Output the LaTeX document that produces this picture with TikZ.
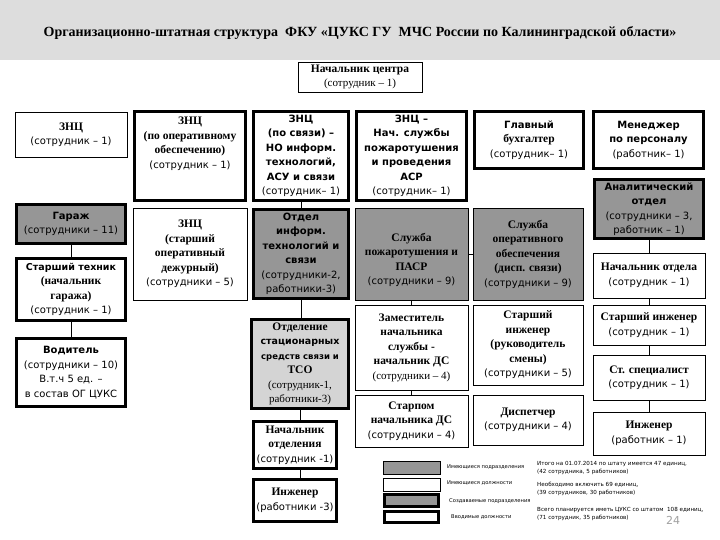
\documentclass[tikz,border=0pt]{standalone}
\usepackage{fontspec}
\setmainfont{Liberation Serif}
\setsansfont{DejaVu Sans}
\definecolor{bandgray}{RGB}{221,221,221}
\definecolor{unitgray}{RGB}{150,150,150}
\definecolor{newgray}{RGB}{212,212,212}
\definecolor{numgray}{RGB}{160,160,160}
% заголовки: с засечками и без
\newcommand{\hr}[1]{{\rmfamily\bfseries\fontsize{11.5}{14.5}\selectfont #1}}
\newcommand{\hs}[1]{{\sffamily\bfseries #1}}
\newcommand{\cnt}[1]{{\sffamily #1}}
\begin{document}
\begin{tikzpicture}[x=1pt,y=-1pt,
    box/.style={draw, line width=0.8pt, fill=white, align=center, inner sep=0pt,
        font=\fontsize{10}{14.5}\selectfont},
    thickbox/.style={box, line width=3pt},
    unit/.style={fill=unitgray},
    newunit/.style={fill=newgray},
    sz/.style 2 args={minimum width=#1pt, minimum height=#2pt},
    link/.style={draw, line width=0.8pt},
    legtext/.style={anchor=west, inner sep=0pt, font=\sffamily\fontsize{5.2}{7.5}\selectfont, align=left},
    sumtext/.style={legtext, font=\sffamily\fontsize{5.6}{8}\selectfont}]
    \useasboundingbox (0,0) rectangle (720,540);
    \fill[bandgray] (0,0) rectangle (720,60);
    \node[font=\rmfamily\bfseries\fontsize{14}{16}\selectfont] (title) at (360,33)
        {Организационно-штатная структура\ \ ФКУ «ЦУКС ГУ\ \ МЧС России по Калининградской области»};

    % Руководство
    \node[box, sz={124}{30}, font=\fontsize{9.5}{13.5}\selectfont] (chief) at (360,77)
        {\hr{Начальник центра}\\{\rmfamily\fontsize{11}{13.5}\selectfont (сотрудник -- 1)}};
    \node[box, sz={112}{45}] (znc1) at (71,134.5) {\hr{ЗНЦ}\\\cnt{(сотрудник -- 1)}};
    \node[thickbox, sz={111}{89}] (znc2) at (190,156)
        {\hr{ЗНЦ}\\\hr{(по оперативному}\\\hr{обеспечению)}\\\cnt{(сотрудник -- 1)}\\[12pt]};
    \node[thickbox, sz={95}{89}] (znc3) at (301,156)
        {\hs{ЗНЦ}\\\hs{(по связи) --}\\\hs{НО информ.}\\\hs{технологий,}\\\hs{АСУ и связи}\\\cnt{(сотрудник-- 1)}};
    \node[thickbox, sz={110}{89}] (znc4) at (411.5,156)
        {\hs{ЗНЦ --}\\\hs{Нач. службы}\\\hs{пожаротушения}\\\hs{и проведения}\\\hs{АСР}\\\cnt{(сотрудник-- 1)}};
    \node[thickbox, sz={109}{57}] (buh) at (529,140) {\hs{Главный}\\\hr{бухгалтер}\\\cnt{(сотрудник-- 1)}};
    \node[thickbox, sz={110}{57}] (kadry) at (648.5,140) {\hs{Менеджер}\\\hs{по персоналу}\\\cnt{(работник-- 1)}};

    % Гараж
    \node[thickbox, unit, sz={109}{39}] (garage) at (71,224) {\hs{Гараж}\\\cnt{(сотрудники -- 11)}};
    \node[thickbox, sz={109}{62}] (tech) at (71,289.5)
        {\hs{\fontsize{9.5}{14.5}\selectfont Старший техник}\\\hr{(начальник}\\\hr{гаража)}\\\cnt{(сотрудник -- 1)}};
    \node[thickbox, sz={109}{68}] (driver) at (71,372.5)
        {\hs{Водитель}\\\cnt{(сотрудники -- 10)}\\\cnt{В.т.ч 5 ед. --}\\\cnt{в состав ОГ ЦУКС}};

    % Дежурная смена и связь
    \node[box, sz={114}{92}] (duty) at (190,254)
        {\hr{ЗНЦ}\\\hr{(старший}\\\hr{оперативный}\\\hr{дежурный)}\\\cnt{(сотрудники -- 5)}};
    \node[thickbox, unit, sz={95}{89}] (itdept) at (301,254)
        {\hs{Отдел}\\\hs{информ.}\\\hs{технологий и}\\\hs{связи}\\\cnt{(сотрудники-2,}\\\cnt{работники-3)}};
    \node[thickbox, newunit, sz={97}{89}] (comsec) at (300,364)
        {\hr{Отделение}\\\hs{\fontsize{9.5}{14.5}\selectfont стационарных}\\\hs{\fontsize{8.5}{14.5}\selectfont средств связи и}\\\hr{ТСО}\\{\rmfamily\fontsize{11}{14.5}\selectfont (сотрудник-1,}\\{\rmfamily\fontsize{11}{14.5}\selectfont работники-3)}};
    \node[thickbox, sz={83}{47}] (comchief) at (295,445)
        {\hr{Начальник}\\\hr{отделения}\\\cnt{(сотрудник -1)}};
    \node[thickbox, sz={83}{42}] (comeng) at (295,500.5) {\hr{Инженер}\\\cnt{(работники -3)}};

    % Пожаротушение и оперативное обеспечение
    \node[box, unit, sz={113}{92}] (fire) at (411.5,254)
        {\hr{\rule{0pt}{20pt}Служба}\\\hr{пожаротушения и}\\\hr{ПАСР}\\\cnt{(сотрудники -- 9)}};
    \node[box, unit, sz={110}{92}] (ops) at (528,254)
        {\hr{Служба}\\\hr{оперативного}\\\hr{обеспечения}\\\hr{(дисп. связи)}\\\cnt{(сотрудники -- 9)}};
    \node[box, sz={113}{85}] (deputy) at (411.5,347.5)
        {\hr{Заместитель}\\\hr{начальника}\\\hr{службы -}\\\hr{начальник ДС}\\{\rmfamily\fontsize{11}{14.5}\selectfont (сотрудники -- 4)}};
    \node[box, sz={113}{52}] (starpom) at (411.5,421)
        {\hr{Старпом}\\\hr{начальника ДС}\\\cnt{(сотрудники -- 4)}};
    \node[box, sz={110}{80}] (shift) at (528,345)
        {\hr{Старший}\\\hr{инженер}\\\hr{(руководитель}\\\hr{смены)}\\\cnt{(сотрудники -- 5)}};
    \node[box, sz={110}{50}] (disp) at (528,420) {\hr{Диспетчер}\\\cnt{(сотрудники -- 4)}};

    % Аналитический отдел
    \node[thickbox, unit, sz={109}{59}] (anal) at (649,209)
        {\hs{Аналитический}\\\hs{отдел}\\\cnt{(сотрудники -- 3,}\\\cnt{работник -- 1)}};
    \node[box, sz={112}{45}] (anchief) at (649,275.5) {\hr{Начальник отдела}\\\cnt{(сотрудник -- 1)}};
    \node[box, sz={112}{40}] (aneng) at (649,325) {\hr{Старший инженер}\\\cnt{(сотрудник -- 1)}};
    \node[box, sz={112}{45}] (anspec) at (649,377.5) {\hr{Ст. специалист}\\\cnt{(сотрудник -- 1)}};
    \node[box, sz={112}{43}] (aneng2) at (649,433.5) {\hr{Инженер}\\\cnt{(работник -- 1)}};

    % Связи
    \draw[link] (garage) -- (tech);
    \draw[link] (tech) -- (driver);
    \draw[link] (znc3) -- (itdept);
    \draw[link] (itdept.south) -- (itdept.south |- comsec.north);
    \draw[link] (comsec.south) -- (comsec.south |- comchief.north);
    \draw[link] (comsec.south |- comchief.south) -- (comsec.south |- comeng.north);
    \draw[link] (fire.east) -- (ops.west);
    \draw[link] (fire) -- (deputy);
    \draw[link] (deputy) -- (starpom);
    \draw[link] (anal) -- (anchief);
    \draw[link] (anchief) -- (aneng);
    \draw[link] (aneng) -- (anspec);
    \draw[link] (anspec) -- (aneng2);

    % Условные обозначения
    \node[draw, line width=0.8pt, fill=unitgray, sz={57}{13}] (leg1) at (411.5,467.5) {};
    \node[draw, line width=0.8pt, fill=white, sz={57}{13}] (leg2) at (411.5,484.5) {};
    \node[draw, line width=3pt, fill=unitgray, sz={54}{12}] (leg3) at (411.5,500.5) {};
    \node[draw, line width=3pt, fill=white, sz={54}{11}] (leg4) at (411.5,517) {};
    \node[legtext] (leg1t) at (447,467.5) {Имеющиеся подразделения};
    \node[legtext] (leg2t) at (447,483) {Имеющиеся должности};
    \node[legtext] (leg3t) at (449,501) {Создаваемые подразделения};
    \node[legtext] (leg4t) at (451,517) {Вводимые должности};
    \node[sumtext] (sum1) at (537,468.5) {Итого на 01.07.2014 по штату имеется 47 единиц,\\(42 сотрудника, 5 работников)};
    \node[sumtext] (sum2) at (537,489) {Необходимо включить 69 единиц,\\(39 сотрудников, 30 работников)};
    \node[sumtext] (sum3) at (537,514) {Всего планируется иметь ЦУКС со штатом\ \ 108 единиц,\\(71 сотрудник, 35 работников)};
    \node[font=\sffamily\fontsize{11}{12}\selectfont, text=numgray] (page) at (673,520) {24};
\end{tikzpicture}
\end{document}
